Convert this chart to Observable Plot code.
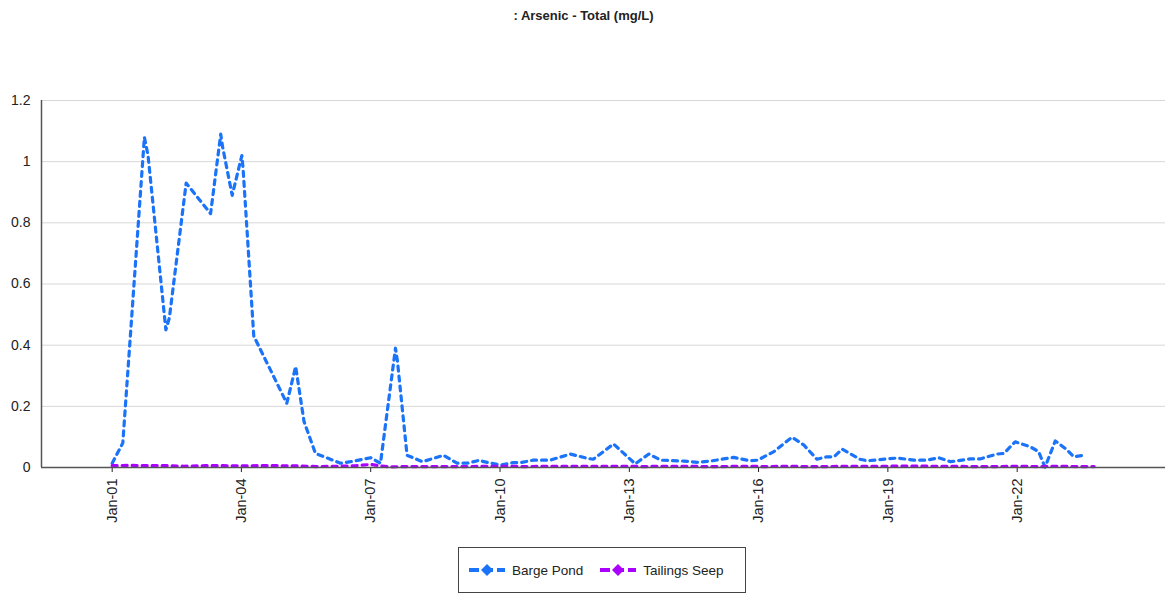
<!DOCTYPE html>
<html>
<head>
<meta charset="utf-8">
<script src="https://cdn.jsdelivr.net/npm/d3@7"></script>
<script src="https://cdn.jsdelivr.net/npm/@observablehq/plot@0.6"></script>
<style>
  html, body { margin: 0; padding: 0; background: #fff; }
  body { width: 1167px; height: 593px; overflow: hidden; font-family: "Liberation Sans", Arial, sans-serif; }
  #title { height: 30px; line-height: 32px; text-align: center; font-size: 13px; font-weight: bold; color: #222; }
  #chart { height: 510px; }
  #legend { position: absolute; left: 458px; top: 547px; width: 286px; height: 44px; border: 1px solid #444;
            display: flex; align-items: center; font-size: 13.5px; color: #222; white-space: nowrap; }
  .item { display: flex; align-items: center; margin-left: 9px; margin-right: 7px; white-space: nowrap; }
  .item svg { margin-right: 6px; flex: none; }
</style>
</head>
<body>
<div id="title">: Arsenic - Total (mg/L)</div>
<div id="chart"></div>
<div id="legend"></div>
<script>
// Arsenic (total, mg/L) sampling results by station
const bargeDates = [
  "2001-01-01","2001-04-01","2001-10-01","2001-11-01","2002-04-01","2002-05-01","2002-09-20",
  "2003-04-15","2003-07-10","2003-07-25","2003-10-15","2004-01-05","2004-01-15","2004-04-15",
  "2005-01-20","2005-04-05","2005-06-15","2005-09-20","2006-04-20","2006-07-15","2007-01-01",
  "2007-03-25","2007-07-30","2007-08-15","2007-11-05","2008-03-15","2008-09-10","2009-01-01",
  "2009-04-01","2009-07-15","2009-08-15","2010-01-05","2010-04-25","2010-06-25","2010-10-10",
  "2011-03-01","2011-08-20","2012-01-10","2012-03-01","2012-08-20","2013-02-20","2013-06-15",
  "2013-09-25","2014-04-10","2014-07-30","2014-11-20","2015-03-10","2015-06-05","2015-10-20",
  "2015-12-25","2016-05-10","2016-10-10","2017-01-20","2017-05-10","2017-08-01","2017-10-01",
  "2017-12-10","2018-05-10","2018-07-10","2018-12-28","2019-03-20","2019-08-10","2019-11-30",
  "2020-03-05","2020-06-15","2020-11-28","2021-02-20","2021-07-15","2021-09-10","2021-12-15",
  "2022-04-20","2022-07-01","2022-08-25","2022-11-20","2023-03-01","2023-04-25","2023-07-20"
];
const bargeValues = [
  0.014, 0.08, 1.08, 1.02, 0.45, 0.49, 0.93,
  0.83, 1.09, 1.05, 0.89, 1.02, 0.98, 0.43,
  0.21, 0.33, 0.15, 0.046, 0.014, 0.019, 0.032,
  0.014, 0.39, 0.35, 0.04, 0.019, 0.04, 0.014,
  0.014, 0.024, 0.019, 0.008, 0.016, 0.016, 0.024,
  0.024, 0.044, 0.030, 0.027, 0.077, 0.012, 0.044,
  0.024, 0.021, 0.017, 0.021, 0.028, 0.033, 0.022,
  0.024, 0.052, 0.099, 0.073, 0.027, 0.035, 0.035,
  0.06, 0.027, 0.022, 0.028, 0.031, 0.024, 0.024,
  0.032, 0.019, 0.028, 0.028, 0.044, 0.046, 0.084,
  0.068, 0.052, 0.001, 0.087, 0.057, 0.035, 0.040
];
const seepDates = [
  "2001-01-01","2001-06-01","2001-11-01","2002-04-01","2002-09-01","2003-03-01","2003-08-01",
  "2004-01-01","2004-06-01","2004-11-01","2005-05-01","2005-10-01","2006-04-01","2006-09-01",
  "2007-01-01","2007-06-01","2007-11-01","2008-05-01","2008-10-01","2009-04-01","2009-09-01",
  "2010-03-01","2010-08-01","2011-02-01","2011-07-01","2012-01-01","2012-06-01","2012-12-01",
  "2013-05-01","2013-11-01","2014-04-01","2014-10-01","2015-03-01","2015-09-01","2016-03-01",
  "2016-08-01","2017-02-01","2017-08-01","2018-02-01","2018-08-01","2019-01-01","2019-07-01",
  "2020-01-01","2020-07-01","2021-01-01","2021-07-01","2022-01-01","2022-07-01","2023-01-01",
  "2023-06-01","2023-10-15"
];
const seepValues = [
  0.006, 0.007, 0.006, 0.006, 0.004, 0.006, 0.006,
  0.005, 0.006, 0.006, 0.005, 0.003, 0.004, 0.006,
  0.010, 0.002, 0.003, 0.003, 0.003, 0.003, 0.004,
  0.004, 0.003, 0.004, 0.004, 0.004, 0.004, 0.004,
  0.003, 0.004, 0.004, 0.003, 0.003, 0.004, 0.003,
  0.004, 0.003, 0.003, 0.004, 0.004, 0.004, 0.005,
  0.004, 0.004, 0.003, 0.003, 0.004, 0.003, 0.004,
  0.003, 0.003
];
const seriesNames = ["Barge Pond", "Tailings Seep"];
const seriesColors = ["#1a73f8", "#aa00ff"];
const yTicks = [0, 0.2, 0.4, 0.6, 0.8, 1, 1.2];
const xTickYears = [2001, 2004, 2007, 2010, 2013, 2016, 2019, 2022];

const rows = [
  ...bargeDates.map((d, i) => ({series: seriesNames[0], date: new Date(d), value: bargeValues[i]})),
  ...seepDates.map((d, i) => ({series: seriesNames[1], date: new Date(d), value: seepValues[i]}))
];
const xTicks = xTickYears.map(y => new Date(Date.UTC(y, 0, 1)));
const fmt = d3.utcFormat("%b-%y");
const xStart = new Date("1999-05-13");

const plot = Plot.plot({
  width: 1167,
  height: 510,
  marginLeft: 41,
  marginRight: 2,
  marginTop: 70,
  marginBottom: 73,
  style: {fontFamily: "'Liberation Sans', Arial, sans-serif", fontSize: "14px", color: "#222", background: "#fff", overflow: "visible"},
  x: {type: "utc", domain: [xStart, new Date("2025-06-11")], label: null},
  y: {domain: [0, 1.2], label: null},
  color: {domain: seriesNames, range: seriesColors},
  marks: [
    Plot.gridY(yTicks, {stroke: "#d8d8d8", strokeOpacity: 1, strokeWidth: 1}),
    Plot.axisY(yTicks, {tickFormat: d => String(d), tickSize: 0, tickPadding: 11, fontSize: 14}),
    Plot.axisX(xTicks, {tickFormat: fmt, tickRotate: -90, tickSize: 5, tickPadding: 6, fontSize: 14.5}),
    Plot.line(rows, {x: "date", y: "value", z: "series", stroke: "series",
      strokeWidth: 3.2, strokeDasharray: "5,5", strokeLinecap: "round", strokeLinejoin: "round"}),
    Plot.ruleX([xStart], {stroke: "#555", strokeWidth: 1.5}),
    Plot.ruleY([0], {stroke: "#555", strokeWidth: 1.5})
  ]
});
document.getElementById("chart").appendChild(plot);

// Legend: dashed swatch with diamond marker per series
const legend = document.getElementById("legend");
seriesNames.forEach((name, i) => {
  const item = document.createElement("div");
  item.className = "item";
  const c = seriesColors[i];
  item.innerHTML =
    `<svg width="38" height="14" viewBox="0 0 38 14">
       <line x1="1" y1="7" x2="37" y2="7" stroke="${c}" stroke-width="4" stroke-dasharray="10,4,10,4,10" />
       <path d="M19 1 L25 7 L19 13 L13 7 Z" fill="${c}" />
     </svg><span>${name}</span>`;
  legend.appendChild(item);
});
</script>
</body>
</html>
